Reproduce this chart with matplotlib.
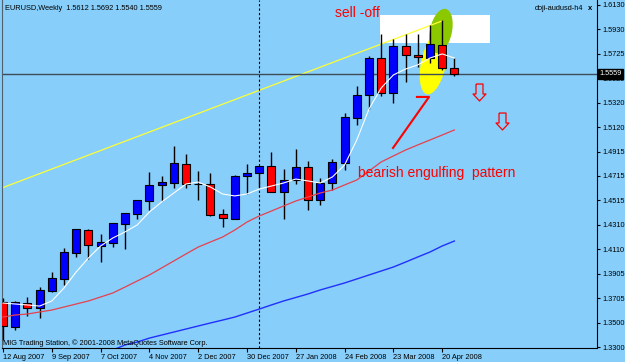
import matplotlib
matplotlib.use("Agg")
import matplotlib.pyplot as plt
import matplotlib.transforms as mtransforms
from matplotlib.patches import Ellipse, Rectangle
import numpy as np

plt.rcParams['font.family'] = ['Liberation Sans', 'DejaVu Sans']

nan = np.nan

# EURUSD weekly bars, 12 Aug 2007 .. 27 Apr 2008
opens = [1.3672, 1.3465, 1.3664, 1.3623, 1.3763, 1.3863, 1.4078, 1.4268, 1.4136, 1.4161,
         1.4318, 1.4400, 1.4508, 1.4641, 1.4657, 1.4814, 1.4649, 1.4649, 1.4400, 1.4359,
         1.4715, 1.4740, 1.4798, 1.4583, 1.4682, 1.4790, 1.4516, 1.4657, 1.4823, 1.5195,
         1.5385, 1.5691, 1.5402, 1.5791, 1.5716, 1.5691, 1.5799, 1.5612]
highs = [1.3705, 1.3681, 1.3714, 1.3796, 1.3921, 1.4119, 1.4276, 1.4276, 1.4235, 1.4326,
         1.4409, 1.4516, 1.4748, 1.4715, 1.4963, 1.4897, 1.4756, 1.4740, 1.4442, 1.4723,
         1.4814, 1.4798, 1.4914, 1.4773, 1.4938, 1.4839, 1.4698, 1.4856, 1.5236, 1.5460,
         1.5708, 1.5890, 1.5849, 1.5890, 1.5890, 1.5965, 1.6006, 1.5692]
lows = [1.3358, 1.3441, 1.3557, 1.3540, 1.3755, 1.3813, 1.4045, 1.4028, 1.4003, 1.4127,
        1.4111, 1.4359, 1.4434, 1.4508, 1.4616, 1.4616, 1.4516, 1.4384, 1.4293, 1.4359,
        1.4566, 1.4624, 1.4583, 1.4359, 1.4649, 1.4434, 1.4475, 1.4599, 1.4765, 1.5137,
        1.5269, 1.5377, 1.5319, 1.5493, 1.5617, 1.5650, 1.5592, 1.5540]
closes = [1.3474, 1.3672, 1.3623, 1.3772, 1.3871, 1.4086, 1.4276, 1.4144, 1.4169, 1.4326,
          1.4409, 1.4516, 1.4641, 1.4665, 1.4823, 1.4649, 1.4649, 1.4392, 1.4367, 1.4715,
          1.4740, 1.4798, 1.4583, 1.4682, 1.4790, 1.4516, 1.4657, 1.4831, 1.5203, 1.5385,
          1.5691, 1.5402, 1.5791, 1.5716, 1.5700, 1.5807, 1.5609, 1.5559]

ma_fast = [1.3664, 1.3656, 1.3648, 1.3639, 1.3681, 1.3788, 1.3921, 1.4036, 1.4136, 1.4202,
           1.4252, 1.4310, 1.4417, 1.4500, 1.4574, 1.4649, 1.4665, 1.4624, 1.4566, 1.4550,
           1.4566, 1.4607, 1.4632, 1.4657, 1.4690, 1.4674, 1.4657, 1.4707, 1.4806, 1.5013,
           1.5269, 1.5443, 1.5551, 1.5600, 1.5634, 1.5691, 1.5725, 1.5691]
ma_mid = [1.3548, 1.3565, 1.3573, 1.3590, 1.3606, 1.3631, 1.3656, 1.3681, 1.3714, 1.3747,
          1.3796, 1.3846, 1.3896, 1.3954, 1.4012, 1.4070, 1.4127, 1.4169, 1.4210, 1.4268,
          1.4334, 1.4384, 1.4425, 1.4467, 1.4508, 1.4541, 1.4574, 1.4599, 1.4641, 1.4682,
          1.4756, 1.4831, 1.4881, 1.4930, 1.4972, 1.5013, 1.5054, 1.5096]
ma_slow = [nan, nan, nan, nan, nan, nan, nan, nan, nan, 1.3275,
           1.3317, 1.3341, 1.3374, 1.3399, 1.3424, 1.3449, 1.3474, 1.3499, 1.3523, 1.3548,
           1.3581, 1.3614, 1.3648, 1.3681, 1.3710, 1.3739, 1.3772, 1.3801, 1.3830, 1.3863,
           1.3896, 1.3929, 1.3962, 1.4003, 1.4045, 1.4086, 1.4136, 1.4177]

date_labels = ["12 Aug 2007", "9 Sep 2007", "7 Oct 2007", "4 Nov 2007", "2 Dec 2007",
               "30 Dec 2007", "27 Jan 2008", "24 Feb 2008", "23 Mar 2008", "20 Apr 2008"]
price_ticks = [1.6130, 1.5930, 1.5725, 1.5525, 1.5320, 1.5120, 1.4915, 1.4715,
               1.4515, 1.4310, 1.4110, 1.3905, 1.3705, 1.3500, 1.3300]

separator_week = 21
trend_x = [-1, 36]
trend_y = [1.4581, 1.5998]
box_x = [30.9, 39.9]
box_y = [1.5816, 1.6047]
seven_x = [33.93, 34.92, 31.97]
seven_y = [1.5369, 1.5369, 1.4947]
arrows_x = [38.98, 40.94]
arrows_y = [1.5414, 1.5166]

bg = '#87CEFA'
fig = plt.figure(figsize=(6.25, 3.62), dpi=100, facecolor=bg)
ax = fig.add_axes([2 / 625, 14 / 362, 595 / 625, 348 / 362])
ax.set_facecolor(bg)

x = np.arange(len(opens))
o = np.array(opens)
c = np.array(closes)
body_colors = np.where(c > o, '#0000FF', '#FF0000')

# objects in the background
ax.add_patch(Rectangle((box_x[0], box_y[0]), box_x[1] - box_x[0], box_y[1] - box_y[0],
                       facecolor='white', edgecolor='none', zorder=1))
for cx, cy, w, h, col in [(35.3, 1.5650, 25, 64, '#FFFF00'), (35.9, 1.5915, 22, 45, '#8CC800')]:
    tr = mtransforms.ScaledTranslation(cx, cy, ax.transData)
    ax.add_patch(Ellipse((0, 0), w, h, angle=-12, transform=tr, facecolor=col,
                         edgecolor='none', zorder=1.5))
ax.plot(trend_x, trend_y, color='#FFFF33', lw=0.9, zorder=2)
ax.axvline(separator_week, color='black', ls=(0, (2, 2)), lw=0.8, zorder=2)
ax.axhline(closes[-1], color='#3E4C5A', lw=1, zorder=2.5)

# candles
ax.vlines(x, lows, highs, color='black', lw=1, zorder=3)
ax.bar(x, c - o, bottom=o, width=0.66, color=body_colors, edgecolor='black',
       linewidth=0.8, zorder=4)

# moving averages
ax.plot(x, ma_fast, color='white', lw=0.8, zorder=5)
ax.plot(x, ma_mid, color='#E8404C', lw=0.9, zorder=5)
ax.plot(x, ma_slow, color='#2030FF', lw=1.0, zorder=5)

# annotations
ax.plot(seven_x, seven_y, color='#FF0000', lw=1.5, zorder=6)
arrow = [(-3.5, 8.5), (3.5, 8.5), (3.5, -1.5), (6.5, -1.5), (0, -8.5),
         (-6.5, -1.5), (-3.5, -1.5), (-3.5, 8.5)]
ax.plot(arrows_x, arrows_y, ls='none', marker=arrow, ms=12.2, mfc='none',
        mec='#FF0000', mew=0.9, zorder=6)
ax.text(27.2, 1.6064, "sell -off", color='#FF0000', fontsize=10, ha='left', va='center', zorder=7)
ax.text(29.1, 1.4740, "bearish engulfing  pattern", color='#FF0000', fontsize=10,
        ha='left', va='center', zorder=7)

ax.set_xlim(-0.08, 48.69)
ax.set_ylim(1.3292, 1.6171)

ax.spines['top'].set_visible(False)
ax.spines['left'].set_color('#50606c')
ax.spines['right'].set_color('black')
ax.spines['bottom'].set_color('black')

ax.yaxis.tick_right()
ax.set_yticks(price_ticks, [f"{v:.4f}" for v in price_ticks])
ax.tick_params(axis='y', direction='out', length=2, pad=2, labelsize=5.3, colors='black')
ax.set_xticks(range(0, 37, 4), date_labels)
for lbl in ax.get_xticklabels():
    lbl.set_ha('left')
ax.tick_params(axis='x', direction='out', length=3, pad=1.5, labelsize=5.3, colors='black')

blend = mtransforms.blended_transform_factory(ax.transAxes, ax.transData)
ax.text(1.004, closes[-1], f"{closes[-1]:.4f}", transform=blend, color='white',
        fontsize=5.3, ha='left', va='center', clip_on=False, zorder=10,
        bbox=dict(boxstyle='square,pad=0.25', fc='black', ec='black'))

fig.text(5 / 625, 1 - 8 / 362, "EURUSD,Weekly  %.4f %.4f %.4f %.4f"
         % (opens[-1], highs[-1], lows[-1], closes[-1]), fontsize=5.3, va='center')
fig.text(583 / 625, 1 - 8 / 362, "doji-audusd-h4", fontsize=5.3, va='center', ha='right')
fig.text(588 / 625, 1 - 8 / 362, "x", fontsize=5.5, va='center', ha='left', fontweight='bold')
fig.text(3 / 625, 1 - 343 / 362, "MIG Trading Station, \u00a9 2001-2008 MetaQuotes Software Corp.",
         fontsize=5.3, va='center')

fig.savefig("out.png", dpi=100, facecolor=bg)
